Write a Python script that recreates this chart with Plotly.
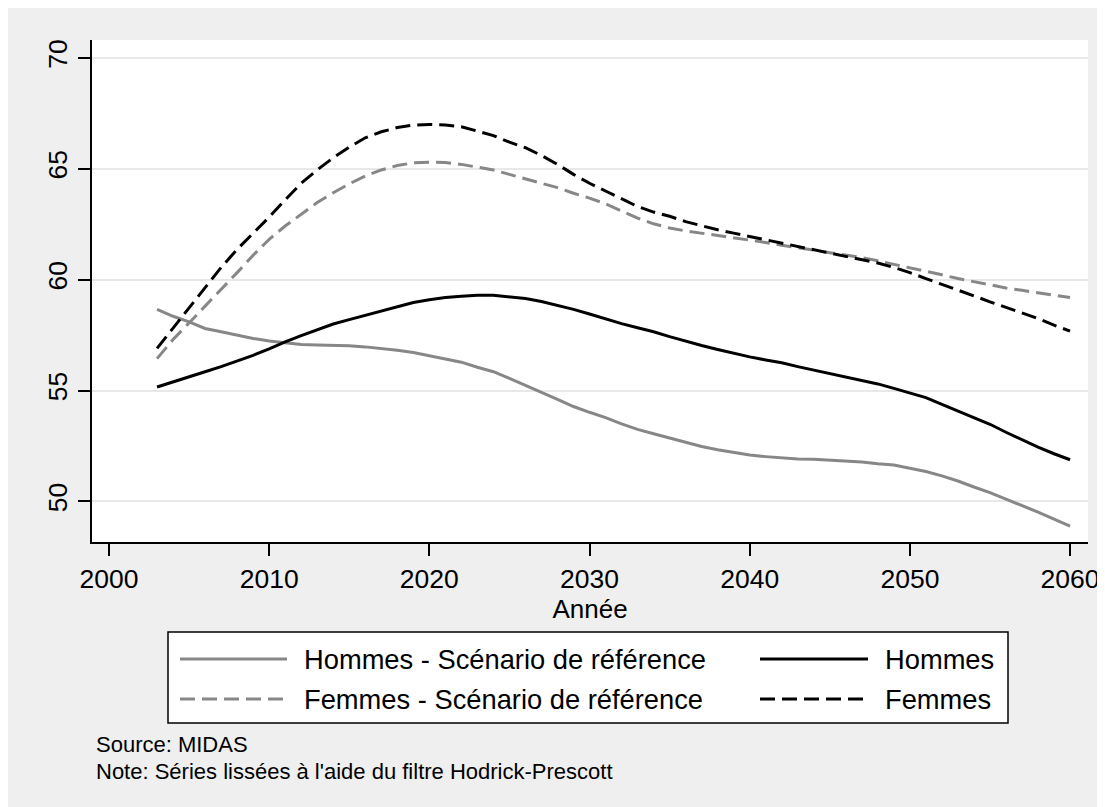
import plotly.graph_objects as go

years = list(range(2003, 2061))

hommes_ref = [58.66, 58.35, 58.10, 57.80, 57.65, 57.50, 57.35, 57.24, 57.15, 57.08,
              57.05, 57.05, 57.02, 56.97, 56.90, 56.82, 56.72, 56.58, 56.42, 56.28,
              56.05, 55.85, 55.55, 55.25, 54.92, 54.60, 54.28, 54.02, 53.78, 53.50,
              53.25, 53.05, 52.86, 52.66, 52.48, 52.33, 52.20, 52.09, 52.02, 51.95,
              51.91, 51.90, 51.87, 51.84, 51.78, 51.70, 51.64, 51.50, 51.35, 51.15,
              50.92, 50.65, 50.40, 50.10, 49.82, 49.52, 49.20, 48.89]

hommes = [55.16, 55.40, 55.63, 55.85, 56.08, 56.32, 56.59, 56.88, 57.20, 57.48,
          57.75, 58.00, 58.20, 58.40, 58.60, 58.80, 58.97, 59.10, 59.20, 59.25,
          59.30, 59.30, 59.24, 59.15, 59.02, 58.85, 58.66, 58.45, 58.23, 58.02,
          57.83, 57.65, 57.43, 57.22, 57.03, 56.85, 56.68, 56.52, 56.38, 56.25,
          56.08, 55.92, 55.75, 55.60, 55.46, 55.30, 55.10, 54.88, 54.68, 54.38,
          54.08, 53.78, 53.48, 53.12, 52.78, 52.45, 52.15, 51.88]

femmes_ref = [56.44, 57.30, 58.05, 58.80, 59.58, 60.32, 61.10, 61.82, 62.42, 62.97,
              63.48, 63.92, 64.32, 64.68, 64.95, 65.15, 65.27, 65.30, 65.28, 65.20,
              65.08, 64.95, 64.75, 64.55, 64.35, 64.15, 63.90, 63.68, 63.42, 63.10,
              62.78, 62.52, 62.33, 62.20, 62.10, 62.00, 61.90, 61.80, 61.68, 61.55,
              61.44, 61.35, 61.25, 61.13, 61.00, 60.85, 60.70, 60.55, 60.38, 60.22,
              60.05, 59.90, 59.77, 59.63, 59.52, 59.40, 59.30, 59.20]

femmes = [56.90, 57.80, 58.70, 59.65, 60.55, 61.37, 62.10, 62.82, 63.60, 64.35,
          64.95, 65.50, 65.98, 66.40, 66.67, 66.86, 66.97, 67.00, 66.98, 66.90,
          66.70, 66.50, 66.20, 65.95, 65.60, 65.20, 64.75, 64.35, 64.00, 63.65,
          63.30, 63.05, 62.86, 62.62, 62.42, 62.25, 62.10, 61.95, 61.80, 61.65,
          61.52, 61.37, 61.22, 61.08, 60.90, 60.75, 60.55, 60.32, 60.05, 59.80,
          59.55, 59.27, 59.00, 58.75, 58.50, 58.25, 57.95, 57.68]

series_names = ["Hommes - Scénario de référence", "Hommes",
                "Femmes - Scénario de référence", "Femmes"]
x_ticks = [2000, 2010, 2020, 2030, 2040, 2050, 2060]
y_ticks = [50, 55, 60, 65, 70]

GRAY = "#878787"
BLACK = "#000000"
BG = "#efefef"
FONT = "Arial, 'Liberation Sans', sans-serif"
DASH = "15px,7px"

styles = {
    "Hommes - Scénario de référence": dict(color=GRAY, dash="solid"),
    "Hommes": dict(color=BLACK, dash="solid"),
    "Femmes - Scénario de référence": dict(color=GRAY, dash=DASH),
    "Femmes": dict(color=BLACK, dash=DASH),
}
data = {
    "Hommes - Scénario de référence": hommes_ref,
    "Hommes": hommes,
    "Femmes - Scénario de référence": femmes_ref,
    "Femmes": femmes,
}

fig = go.Figure()
for name in series_names:
    st = styles[name]
    fig.add_trace(go.Scatter(x=years, y=data[name], mode="lines", name=name,
                             line=dict(color=st["color"], width=3, dash=st["dash"]),
                             showlegend=False))

# page has an 8px body margin; layout coords below are in screen px
OFF = 8
W, H = 1105, 807
ML, MT = 92 - OFF, 40 - OFF
PW, PH = 996, 502
MR = W - ML - PW
MB = H - MT - PH

def px(x):
    return (x - OFF - ML) / PW

def py(y):
    return (MT + PH - (y - OFF)) / PH

shapes = [
    dict(type="rect", xref="paper", yref="paper", x0=px(168), x1=px(1008), y0=py(723), y1=py(632),
         fillcolor="white", line=dict(color="black", width=1.5), layer="above"),
]
annotations = []
legend_pos = [
    ("Hommes - Scénario de référence", 180, 287, 302, 659),
    ("Hommes", 760, 868, 883, 659),
    ("Femmes - Scénario de référence", 180, 287, 302, 699),
    ("Femmes", 760, 868, 883, 699),
]
for name, sx0, sx1, tx, yc in legend_pos:
    st = styles[name]
    shapes.append(dict(type="line", xref="paper", yref="paper", x0=px(sx0), x1=px(sx1),
                       y0=py(yc), y1=py(yc), layer="above",
                       line=dict(color=st["color"], width=3, dash=st["dash"])))
    annotations.append(dict(text=name, xref="paper", yref="paper", x=px(tx), y=py(yc),
                            xanchor="left", yanchor="middle", showarrow=False,
                            font=dict(family=FONT, size=27.3, color="black")))

annotations.append(dict(text="Source: MIDAS", xref="paper", yref="paper", x=px(95), y=py(758),
                        xanchor="left", yanchor="bottom", showarrow=False, borderpad=0,
                        font=dict(family=FONT, size=22, color="black")))
annotations.append(dict(text="Note: Séries lissées à l'aide du filtre Hodrick-Prescott",
                        xref="paper", yref="paper", x=px(95), y=py(758),
                        xanchor="left", yanchor="top", showarrow=False, borderpad=0,
                        font=dict(family=FONT, size=22, color="black")))

fig.update_layout(
    width=W, height=H,
    margin=dict(l=ML, r=MR, t=MT, b=MB, pad=0),
    paper_bgcolor=BG, plot_bgcolor="white",
    font=dict(family=FONT, size=26, color="black"),
    showlegend=False,
    shapes=shapes, annotations=annotations,
    xaxis=dict(range=[1998.94, 2061.12], tickvals=x_ticks, ticks="outside", ticklen=12,
               tickwidth=2, tickcolor="black", showline=True, linecolor="black", linewidth=2,
               showgrid=False, zeroline=False, tickfont=dict(size=26.5),
               title=dict(text="Année", font=dict(size=26), standoff=0)),
    yaxis=dict(range=[48.17, 70.81], tickvals=y_ticks, ticks="outside", ticklen=12,
               tickwidth=2, tickcolor="black", showline=True, linecolor="black", linewidth=2,
               showgrid=True, gridcolor="#e8e8e8", gridwidth=2, zeroline=False,
               tickangle=-90, tickfont=dict(size=26.5)),
)

fig.write_html("out.html")
